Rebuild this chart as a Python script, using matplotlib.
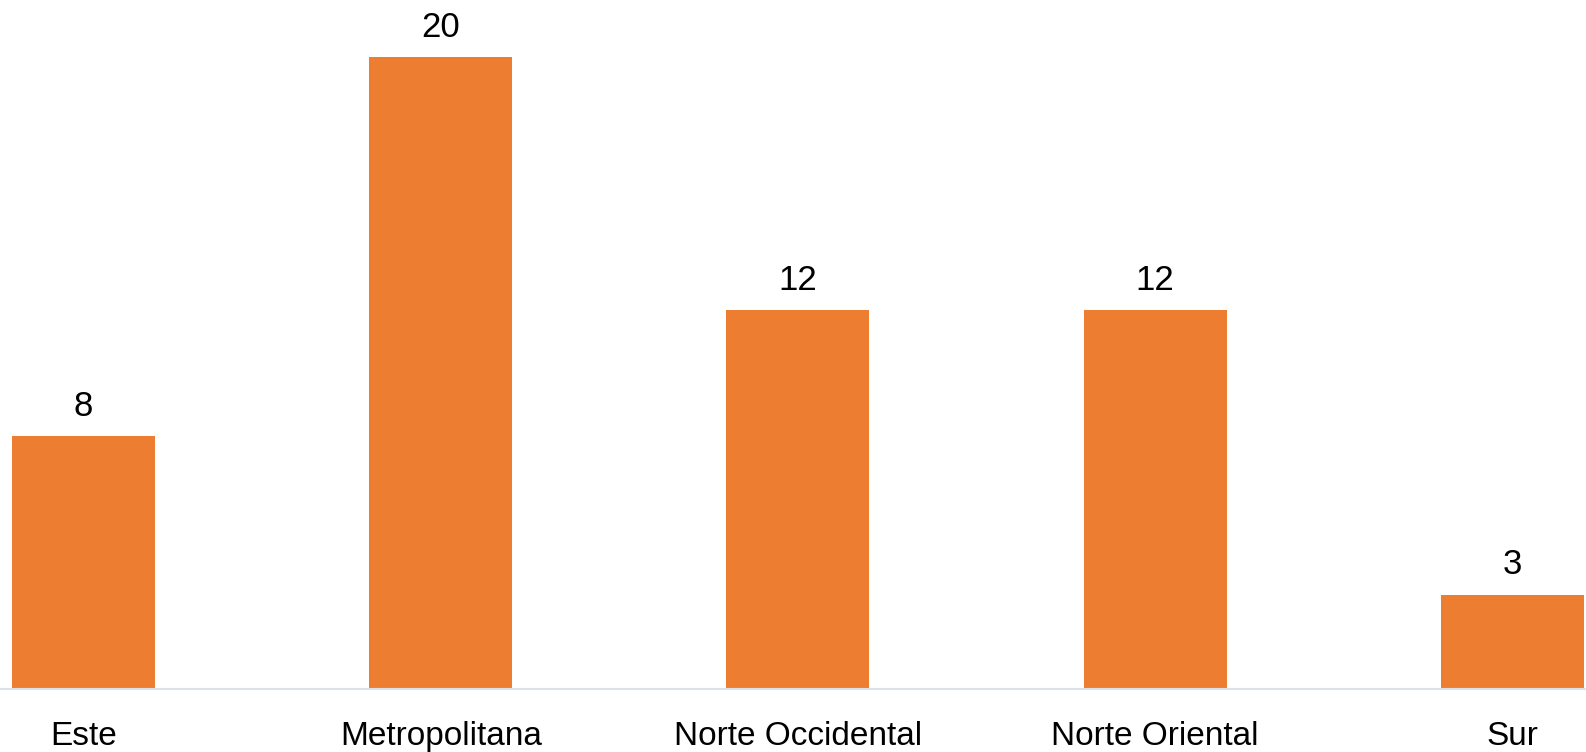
import matplotlib
matplotlib.use("Agg")
import matplotlib.pyplot as plt

categories = ["Este", "Metropolitana", "Norte Occidental", "Norte Oriental", "Sur"]
values = [8, 20, 12, 12, 3]

plt.rcParams['font.family'] = ['Liberation Sans', 'DejaVu Sans']

W, H = 1586, 752
fig = plt.figure(figsize=(W/100, H/100), dpi=100)
base_px = 689.3
ax = fig.add_axes([0, (H - base_px)/H, 1, base_px/H])

x = list(range(len(categories)))
bars = ax.bar(x, values, width=0.40, color='#ED7D31', zorder=2)

ax.set_xlim(-83.5/357.2, (W - 83.5)/357.2)
ax.set_ylim(0, base_px/31.6)

for spine in ['top', 'right', 'left']:
    ax.spines[spine].set_visible(False)
ax.spines['bottom'].set_color('#dde1e8')
ax.spines['bottom'].set_linewidth(1.5)
ax.set_yticks([])
ax.set_xticks(x)
ax.set_xticklabels(categories, fontsize=24)
ax.tick_params(axis='x', length=0, pad=23)

for b, v in zip(bars, values):
    ax.annotate(str(v), (b.get_x() + b.get_width()/2, v), xytext=(0, 9.5),
                textcoords='offset points', ha='center', va='bottom', fontsize=25)

fig.savefig("out.png", dpi=100)
